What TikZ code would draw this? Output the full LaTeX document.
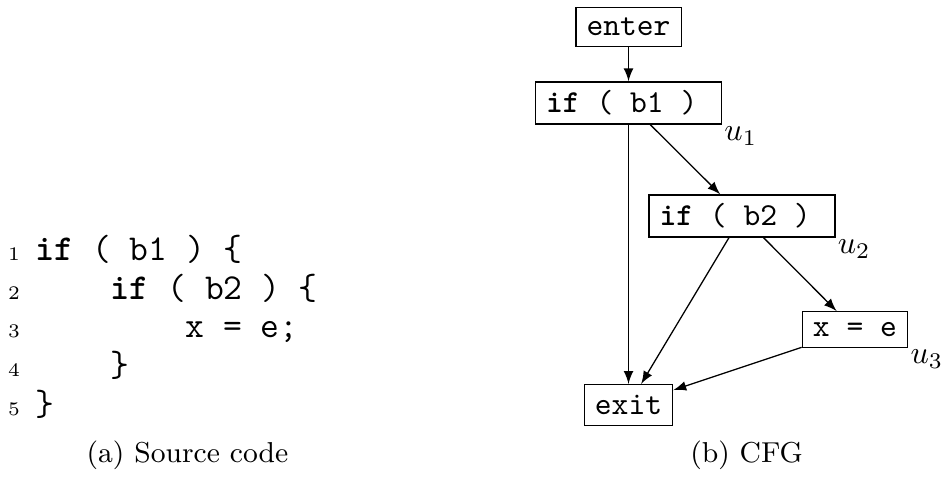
\documentclass[tikz,border=0pt]{standalone}
\usepackage{amsmath}
\usepackage{tikz}
\usetikzlibrary{arrows.meta}
\tikzset{>=latex}
\newcommand{\ifcond}[1]{\makebox[51.5pt][l]{\textbf{if} ( #1 )}}

\begin{document}
\begin{tikzpicture}
                [auto=center,
                 block/.style={draw,font=\ttfamily},
                 ifblock/.style={block,inner ysep=2.7pt},
                 ulabel/.style={anchor=north west,inner sep=0.5pt},
                 codeline/.style={anchor=base west,inner sep=0pt,font=\fontsize{11.4}{12}\ttfamily},
                 linenum/.style={anchor=base east,inner sep=0pt,font=\fontsize{6}{7}\selectfont},
                 caption/.style={anchor=base,inner sep=0pt,font=\fontsize{9}{11}\selectfont}]
                \useasboundingbox (0,0) rectangle (10.346,5.228);

                % source code
                \node[linenum] (n1) at (0.225,2.365) {1};
                \node[linenum] (n2) at (0.225,1.941) {2};
                \node[linenum] (n3) at (0.225,1.517) {3};
                \node[linenum] (n4) at (0.225,1.093) {4};
                \node[linenum] (n5) at (0.225,0.669) {5};

                \node[codeline] (c1) at (0.38,2.365) {\textbf{if} ( b1 ) \{};
                \node[codeline] (c2) at (0.38,1.941) {~~~~\textbf{if} ( b2 ) \{};
                \node[codeline] (c3) at (0.38,1.517) {~~~~~~~~x = e;};
                \node[codeline] (c4) at (0.38,1.093) {~~~~\}};
                \node[codeline] (c5) at (0.38,0.669) {\}};

                \node[caption] (capa) at (2.059,0.154) {(a) Source code};

                % CFG
                \node[block] (enter) at (6.903,4.931) {enter};
                \node[ifblock] (b1) at (6.903,4.097) {\ifcond{b1}};
                \node[ifblock] (b2) at (8.149,2.856) {\ifcond{b2}};
                \node[block] (xe) at (9.390,1.609) {x = e};
                \node[block] (exit) at (6.903,0.780) {exit};

                \node[ulabel] (u1) at (b1.south east) {$u_1$};
                \node[ulabel] (u2) at (b2.south east) {$u_2$};
                \node[ulabel] (u3) at (xe.south east) {$u_3$};

                \draw[->] (enter) -- (b1);
                \draw[->] (b1) -- (b2);
                \draw[->] (b1) -- (exit);
                \draw[->] (b2) -- (xe);
                \draw[->] (b2) -- (exit);
                \draw[->] (xe) -- (exit);

                \node[caption] (capb) at (8.199,0.154) {(b) CFG};
            \end{tikzpicture}
\end{document}
